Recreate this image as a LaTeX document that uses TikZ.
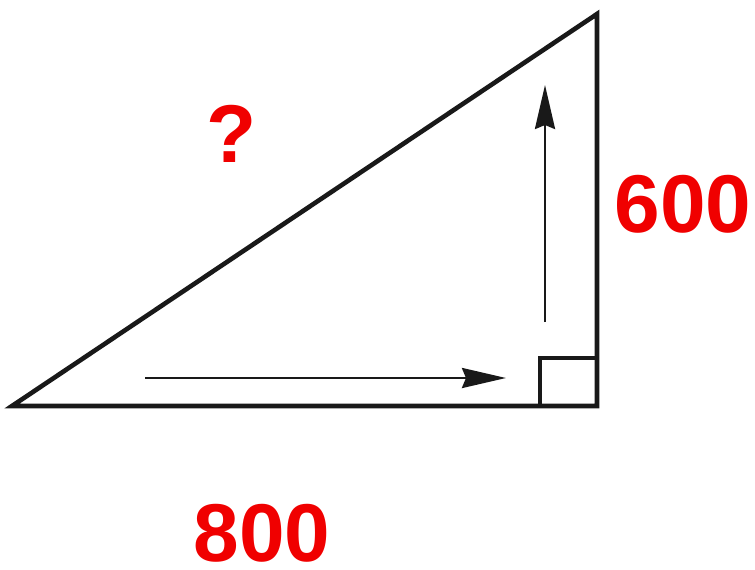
\documentclass[tikz,border=0pt]{standalone}
\usepackage{fontspec}
\setmainfont{Liberation Sans}
\usetikzlibrary{arrows.meta}
\definecolor{lbl}{RGB}{240,0,0}
\definecolor{ink}{RGB}{25,25,25}
\begin{document}
\begin{tikzpicture}[x=1pt,y=-1pt,
  side/.style={line width=4.6pt,draw=ink,line join=miter},
  arr/.style={line width=2.8pt,draw=ink,-{Stealth[length=44pt,width=20pt,inset=4pt]}},
  lab/.style={text=lbl,font=\fontsize{82}{82}\selectfont\bfseries,inner sep=0pt,text depth=0pt}]
\useasboundingbox (0,0) rectangle (755,570);
\coordinate (A) at (12,406);
\coordinate (B) at (597,406);
\coordinate (C) at (597,14);
\draw[side] (A) -- (B) -- (C) -- cycle;
\coordinate (s1) at (540,406);
\coordinate (s2) at (540,358);
\coordinate (s3) at (597,358);
\draw[line width=4pt,draw=ink] (s1) -- (s2) -- (s3);
\coordinate (h1) at (145,378);
\coordinate (h2) at (506,378);
\draw[arr] (h1) -- (h2);
\coordinate (v1) at (545,322);
\coordinate (v2) at (545,85);
\draw[arr] (v1) -- (v2);
\node[lab] (q) at (232,134) {?};
\node[lab] (six) at (683,204) {600};
\node[lab] (eight) at (262,533) {800};
\end{tikzpicture}
\end{document}
